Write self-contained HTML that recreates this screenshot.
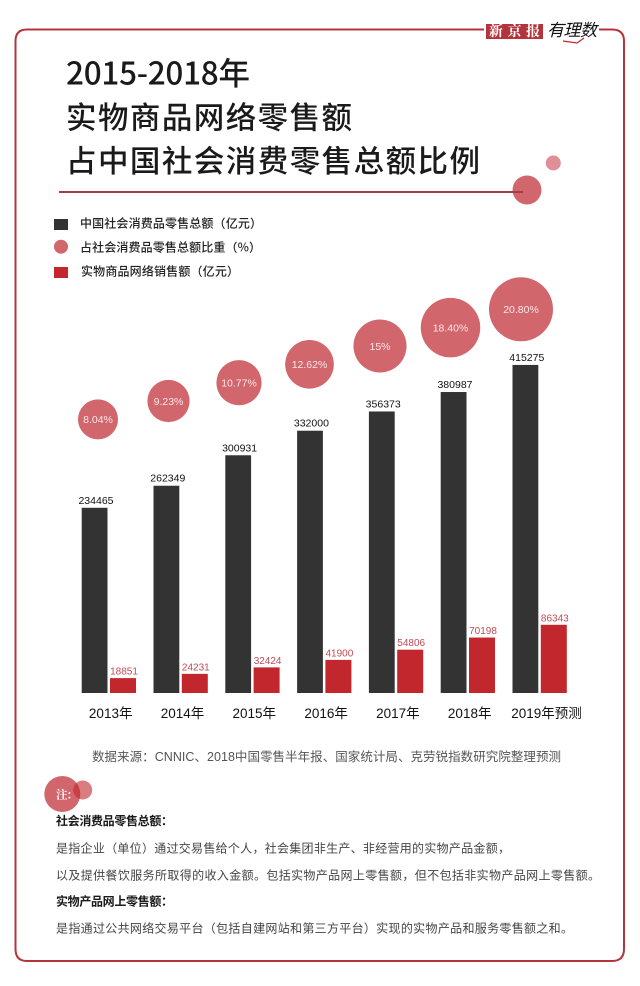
<!DOCTYPE html>
<html lang="zh-CN">
<head>
<meta charset="utf-8">
<title>实物商品网络零售额占中国社会消费零售总额比例</title>
<style>
html,body{margin:0;padding:0;background:#fff;width:640px;height:986px;overflow:hidden}
svg{display:block}
text{font-family:"Liberation Sans","Noto Sans CJK SC",sans-serif}
.cjk{font-family:"Noto Sans CJK SC","Liberation Sans",sans-serif}
.serif{font-family:"Noto Serif CJK SC","Liberation Serif",serif}
</style>
</head>
<body>
<svg id="page" xmlns="http://www.w3.org/2000/svg" width="640" height="986" viewBox="0 0 640 986">
  <rect x="0" y="0" width="640" height="986" fill="#fff"/>
  <path d="M484 29.5H27Q15.5 29.5 15.5 41V949Q15.5 961 27 961H612Q624 961 624 949V41Q624 29.5 612 29.5H599" fill="none" stroke="#b5343c" stroke-width="2"/>

  <g>
    <rect x="486" y="24" width="57" height="15" fill="#b3343c"/>
    <text class="serif" x="489" y="36" font-size="14" font-weight="700" fill="#fff" textLength="51">新京报</text>
    <text class="cjk" x="547" y="36" font-size="17" font-style="italic" fill="#111" textLength="50">有理数</text>
    <path d="M563 41L577 43L584 38" fill="none" stroke="#c1272d" stroke-width="1.2"/>
  </g>

  <g fill="#1a1a1a">
    <text class="cjk" x="66" y="84.5" font-size="31.5" font-weight="500" textLength="184">2015-2018年</text>
    <text class="cjk" x="66" y="128.5" font-size="30.5" font-weight="500" textLength="286">实物商品网络零售额</text>
    <text class="cjk" x="66" y="172" font-size="30.5" font-weight="500" textLength="414">占中国社会消费零售总额比例</text>
  </g>
  <circle cx="527" cy="190" r="14.5" fill="#d2666d"/>
  <circle cx="553.3" cy="163" r="7.5" fill="#e08f96"/>
  <line x1="59" y1="192" x2="523" y2="192" stroke="#a33d46" stroke-width="2"/>

  <g fill="#222">
    <rect x="54" y="219" width="14" height="11" fill="#333"/>
    <text class="cjk" x="80" y="227.5" font-size="12" font-weight="500" textLength="182">中国社会消费品零售总额（亿元）</text>
    <circle cx="61" cy="246.7" r="7" fill="#d2666d"/>
    <text class="cjk" x="80" y="251.5" font-size="12" font-weight="500" textLength="181">占社会消费品零售总额比重（%）</text>
    <rect x="54" y="267" width="14" height="11" fill="#c1272d"/>
    <text class="cjk" x="81" y="275.5" font-size="12" font-weight="500" textLength="158">实物商品网络销售额（亿元）</text>
  </g>

  <g id="chart"></g>

  <text x="92" y="761" font-size="12.5" fill="#555" textLength="469">数据来源：CNNIC、2018中国零售半年报、国家统计局、克劳锐指数研究院整理预测</text>

  <g>
    <circle cx="62.3" cy="794" r="18" fill="#d2666d"/>
    <circle cx="82.7" cy="790" r="9.5" fill="#c1272d" fill-opacity="0.6"/>
    <text class="serif" x="56" y="798.5" font-size="11.5" font-weight="700" fill="#fff">注:</text>
    <text class="cjk" x="56" y="825" font-size="12" font-weight="700" fill="#1a1a1a" textLength="117">社会消费品零售总额：</text>
    <text class="cjk" x="56" y="852.5" font-size="12" fill="#444" textLength="454">是指企业（单位）通过交易售给个人，社会集团非生产、非经营用的实物产品金额，</text>
    <text class="cjk" x="56" y="879.5" font-size="12" fill="#444" textLength="544">以及提供餐饮服务所取得的收入金额。包括实物产品网上零售额，但不包括非实物产品网上零售额。</text>
    <text class="cjk" x="56" y="905.5" font-size="12" font-weight="700" fill="#1a1a1a" textLength="117">实物产品网上零售额：</text>
    <text class="cjk" x="56" y="932.5" font-size="12" fill="#444" textLength="517">是指通过公共网络交易平台（包括自建网站和第三方平台）实现的实物产品和服务零售额之和。</text>
  </g>
</svg>

<script>
const categories = ['2013年', '2014年', '2015年', '2016年', '2017年', '2018年', '2019年预测'];
const retailTotal = [234465, 262349, 300931, 332000, 356373, 380987, 415275];
const onlineSales = [18851, 24231, 32424, 41900, 54806, 70198, 86343];
const sharePercent = [8.04, 9.23, 10.77, 12.62, 15, 18.4, 20.8];
const shareLabels = ['8.04%', '9.23%', '10.77%', '12.62%', '15%', '18.40%', '20.80%'];

const SVG_NS = 'http://www.w3.org/2000/svg';
const chart = document.getElementById('chart');

const baselineY = 693;
function yValue(v) { return baselineY - v * 0.00079; }
function heightValue(v) { return baselineY - yValue(v); }
function groupX(i) { return 81.7 + 71.8 * i; }
function bubbleX(i) { return 98 + 70.5 * i; }
function bubbleY(i) { return 419.4 - 18.35 * i; }
function bubbleR(p) { return 20 + 0.94 * (p - 8.04); }

function make(tag, attrs, text) {
  const el = document.createElementNS(SVG_NS, tag);
  Object.keys(attrs).forEach(function (k) { el.setAttribute(k, attrs[k]); });
  if (text !== undefined) el.textContent = text;
  chart.appendChild(el);
  return el;
}

categories.forEach(function (cat, i) {
  const x = groupX(i);

  const bar = make('rect', { x: x, y: yValue(retailTotal[i]), width: 25.8, height: heightValue(retailTotal[i]), fill: '#333' });
  
  

  const barLabel = make('text', { x: x + 14.3, y: yValue(retailTotal[i]) - 4, 'font-size': 10.5, 'text-anchor': 'middle', fill: '#111' }, String(retailTotal[i]));
  
  

  const red = make('rect', { x: x + 28.3, y: yValue(onlineSales[i]), width: 26, height: heightValue(onlineSales[i]), fill: '#c1272d' });
  
  

  const redLabel = make('text', { x: x + 42.3, y: yValue(onlineSales[i]) - 3.5, 'font-size': 10, 'text-anchor': 'middle', fill: '#c24a55' }, String(onlineSales[i]));
  
  

  const bubble = make('circle', { cx: bubbleX(i), cy: bubbleY(i), r: bubbleR(sharePercent[i]), fill: '#d2666d' });
  
  

  const bubbleLabel = make('text', { x: bubbleX(i), y: bubbleY(i) + 3.8, 'font-size': 10.5, 'text-anchor': 'middle', fill: '#fbe6e6' }, shareLabels[i]);
  
  

  const isLast = i === categories.length - 1;
  const axisLabel = make('text', { x: x + 29 + (isLast ? 5 : 0), y: 718, 'font-size': 13.5, 'text-anchor': 'middle', fill: '#111' }, cat);
  
  
});
</script>
</body>
</html>
